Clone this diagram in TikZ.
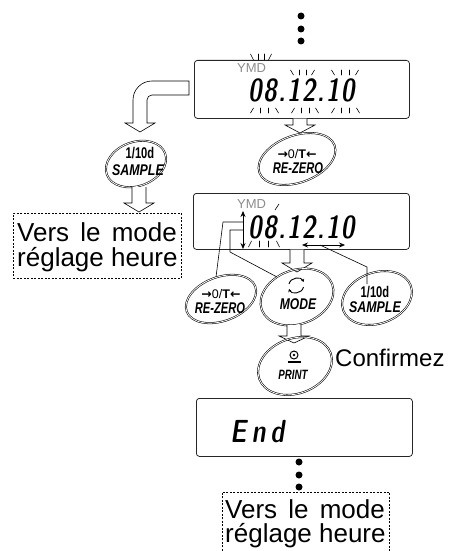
\documentclass[tikz,border=0pt]{standalone}
\usepackage{fontspec}
\setmainfont{Liberation Sans}
\newfontfamily\symfont{DejaVu Sans}
\newfontfamily\segfont{lmsansdemicond10-regular.otf}[FakeSlant=0.15,FakeStretch=0.9,LetterSpace=4]
\usetikzlibrary{shapes.geometric,arrows.meta,calc}
\tikzset{
  disp/.style={draw=black!85, rounded corners=3pt, line width=0.8pt, inner sep=0pt, anchor=north west},
  btn/.style={ellipse, draw, line width=0.55pt, double=white, double distance=0.8pt, inner sep=0pt, rotate=20},
  harrow/.style={draw, fill=white, line width=0.6pt, line join=miter},
  dashbox/.style={draw, dash pattern=on 2pt off 1.5pt, line width=0.6pt},
  big/.style={inner sep=0pt, anchor=base west, font=\fontsize{26}{26}\selectfont},
  seg/.style={inner sep=0pt, anchor=base west, font=\segfont\fontsize{32}{32}\selectfont},
  ymd/.style={inner sep=0pt, anchor=base west, text=black!45, font=\fontsize{13}{13}\selectfont},
  link/.style={line width=0.6pt},
  dbl/.style={line width=0.7pt, {Stealth[length=6pt,width=5pt]}-{Stealth[length=6pt,width=5pt]}},
  blink/.style={line width=0.6pt, line cap=round},
  dot/.style={circle, fill, inner sep=0pt, minimum size=7pt},
  btxt/.style={inner sep=0pt, font=\bfseries\fontsize{15.5}{15.5}\selectfont},
  bitxt/.style={inner sep=0pt, font=\bfseries\itshape\fontsize{15.5}{15.5}\selectfont},
  ztxt/.style={inner sep=0pt, font=\fontsize{12.5}{13}\selectfont},
}
\newcommand\cond[2][0.8]{\scalebox{#1}[1]{#2}}
\newcommand\blk[4]{%
  \draw[blink] (#1+1.5,#3) -- (#1-1.5,#4);
  \draw[blink] ({#1+(#2-#1)/3},#3) -- ({#1+(#2-#1)/3},#4);
  \draw[blink] ({#1+2*(#2-#1)/3},#3) -- ({#1+2*(#2-#1)/3},#4);
  \draw[blink] (#2-1.5,#3) -- (#2+1.5,#4);}
\newcommand\harr[4]{%
  \draw[harrow] (#1-7,#2) -- (#1-7,#3) -- (#1-15,#3) -- (#1,#4) -- (#1+15,#3) -- (#1+7,#3) -- (#1+7,#2);}
\newcommand\zerosym{{\symfont\bfseries →}0/{\bfseries T}{\symfont\bfseries ←}}
\newcommand\versline{Vers\hspace{0.43em}le\hspace{0.43em}mode}
\begin{document}
\begin{tikzpicture}[x=1pt,y=-1pt]
\useasboundingbox (0,0) rectangle (458,551);
% top dots
\node[dot] (t1) at (301,16) {};
\node[dot] (t2) at (301,29) {};
\node[dot] (t3) at (301,41) {};
% display 1
\node[disp, minimum width=215pt, minimum height=58pt] (d1) at (194,60) {};
\node[ymd] (d1y) at (237,73) {YMD};
\node[seg] (d1t) at (248,101) {08.12.10};
\blk{252}{270}{60}{54}
\blk{292}{313}{75}{70}
\blk{333}{357}{75}{70}
\blk{252}{277}{108}{113}
\blk{293}{317}{108}{113}
\blk{333}{358}{108}{113}
% curved hollow arrow to SAMPLE
\draw[harrow] (189,95) -- (189,81) -- (152,81) .. controls (141.5,81) and (133,89.5) .. (133,100)
  -- (133,123) -- (125,123) -- (140,132) -- (155,123) -- (147,123) -- (147,100)
  .. controls (147,97.2) and (149.2,95) .. (152,95) -- cycle;
% arrow display1 -> RE-ZERO
\harr{300}{118.5}{125}{133}
\node[btn, minimum width=80pt, minimum height=47pt] (z1) at (297,159) {};
\node[ztxt] (z1a) at (297,154.5) {\zerosym};
\node[bitxt] (z1b) at (298,168) {\cond[0.72]{RE-ZERO}};
% SAMPLE 1
\node[btn, minimum width=62pt, minimum height=44pt] (s1) at (136,164) {};
\node[btxt] (s1a) at (140,153) {\cond[0.72]{1/10d}};
\node[bitxt] (s1b) at (138,170.5) {\cond{SAMPLE}};
\harr{139}{187}{203}{212}
% box 1
\node[dashbox, minimum width=168pt, minimum height=65pt, anchor=north west, inner sep=0pt] (v1) at (13,213) {};
\node[big] (v1a) at (17,241) {\versline};
\node[big] (v1b) at (17,266) {réglage heure};
% display 2
\node[disp, minimum width=216pt, minimum height=56pt] (d2) at (193,193) {};
\node[ymd] (d2y) at (237,208) {YMD};
\draw[blink] (275,210) -- (279,204);
\node[seg] (d2t) at (248,238) {08.12.10};
\blk{250}{278}{241}{247}
\coordinate (va1) at (243,211);
\coordinate (va2) at (243,249);
\draw[dbl] (va1) -- (va2);
\coordinate (ha1) at (302,245);
\coordinate (ha2) at (345,245);
\draw[dbl] (ha1) -- (ha2);
\harr{297}{249.5}{263}{272}
% buttons row
\node[btn, minimum width=73pt, minimum height=44pt] (r2) at (221,299) {};
\node[ztxt] (r2a) at (221,294.5) {\zerosym};
\node[bitxt] (r2b) at (220,308.5) {\cond[0.72]{RE-ZERO}};
\node[btn, minimum width=75pt, minimum height=54pt] (m) at (297,297) {};
\draw[line width=0.9pt, -{Stealth[length=3pt,width=3.5pt]}] (289,284) .. controls (290.5,277) and (301.5,276.5) .. (303.5,282);
\draw[line width=0.9pt, -{Stealth[length=3pt,width=3.5pt]}] (303.5,287) .. controls (302,294) and (291,294.5) .. (289,289);
\node[bitxt] (mt) at (298,304) {\cond[0.78]{MODE}};
\node[btn, minimum width=72pt, minimum height=51pt] (s2) at (377,298) {};
\node[btxt] (s2a) at (375,292) {\cond[0.72]{1/10d}};
\node[bitxt] (s2b) at (375,307.5) {\cond{SAMPLE}};
% connectors
\coordinate (ja) at (243,222);
\coordinate (jb) at (243,230);
\coordinate (jc) at (320,245);
\draw[link] ($(r2)+(-5,-22)$) -- (223,222) -- (ja);
\draw[link] ($(m)+(-20,-20)$) -- (230,252) -- (230,230) -- (jb);
\draw[link] (jc) -- (367,267) -- ($(s2)+(-10,-14)$);
% MODE -> PRINT
\harr{294}{325}{336}{343}
\node[btn, minimum width=76pt, minimum height=55pt] (p) at (295,366) {};
\draw[line width=1pt] (294,355) circle[radius=4];
\fill (294,355) circle[radius=1.3];
\draw[line width=1.3pt] (287.5,362) -- (300.5,362);
\node[inner sep=0pt, font=\bfseries\itshape\fontsize{13.5}{13.5}\selectfont] (pt) at (293,374.5) {\cond[0.72]{PRINT}};
\node[inner sep=0pt, anchor=base west, font=\fontsize{24}{24}\selectfont] (conf) at (335,366) {Confirmez};
% display 3
\node[disp, minimum width=216pt, minimum height=58pt] (d3) at (196,398) {};
\node[seg] (d3t) at (230,442) {E\hspace{5pt}n\hspace{5pt}d};
% bottom dots
\node[dot] (b1) at (299,462) {};
\node[dot] (b2) at (299,475) {};
\node[dot] (b3) at (299,487) {};
% box 2 (open at the bottom)
\node[inner sep=0pt, minimum width=167pt, minimum height=62pt, anchor=north west] (v2) at (222,492) {};
\draw[dashbox] (v2.south west) -- (v2.north west) -- (v2.north east) -- (v2.south east);
\node[big] (v2a) at (225,518) {\versline};
\node[big] (v2b) at (225,542) {réglage heure};
\end{tikzpicture}
\end{document}
